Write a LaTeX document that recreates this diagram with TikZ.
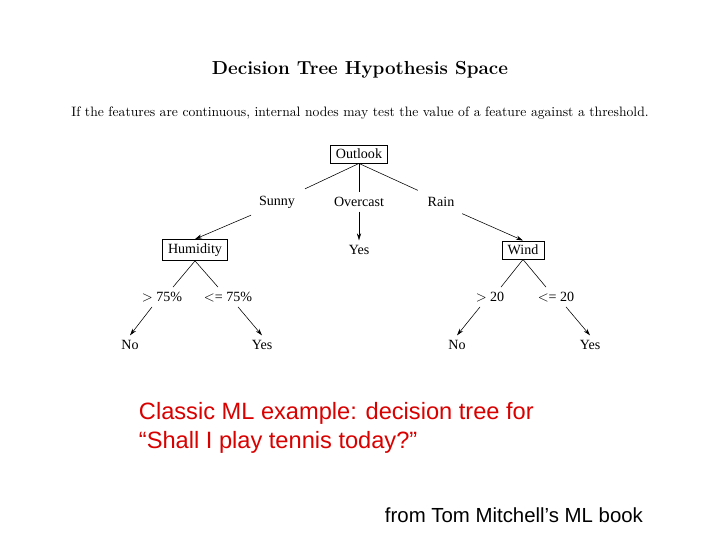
\documentclass[tikz,border=0pt]{standalone}
\usepackage{fontspec}
\setmainfont{Liberation Serif}
\newfontfamily\arialfont{Liberation Sans}
\newfontfamily\cmfont{Latin Modern Roman}
\usetikzlibrary{arrows.meta,calc}
\begin{document}
\begin{tikzpicture}[x=0.025cm,y=-0.025cm,
    test/.style={draw,font=\fontsize{10}{12}\selectfont,inner xsep=4pt,inner ysep=3pt},
    lbl/.style={font=\fontsize{10}{12}\selectfont},
    arr/.style={-{Stealth[length=5pt,width=3pt]},thin}]
\useasboundingbox (0,0) rectangle (720,540);
%TITLE
\node (title) at (360,70) {\cmfont\bfseries\fontsize{13.4}{15}\selectfont Decision Tree Hypothesis Space};
\node (sub) at (360,113) {\cmfont\fontsize{9.7}{11}\selectfont If the features are continuous, internal nodes may test the value of a feature against a threshold.};
%NODE
\node[test] (O) at (359,154) {Outlook};
\node[lbl] (S) at (277,202) {Sunny};
\node[lbl] (OC) at (359,202) {Overcast};
\node[lbl] (R) at (441,202) {Rain};
\node[test] (H) at (195,250) {Humidity};
\node[lbl] (Y1) at (359,250) {Yes};
\node[test] (W) at (523,250) {Wind};
\node[lbl] (H1) at (162,297) {$>$ 75\%};
\node[lbl] (H2) at (228,297) {$<$= 75\%};
\node[lbl] (W1) at (490,297) {$>$ 20};
\node[lbl] (W2) at (556,297) {$<$= 20};
\node[lbl] (N1) at (130,345) {No};
\node[lbl] (Y2) at (262,345) {Yes};
\node[lbl] (N2) at (457,345) {No};
\node[lbl] (Y3) at (590,345) {Yes};
%EDGE
\draw[thin] (O.south) -- ($(S.north east)+(5,-2)$);
\draw[thin] (O.south) -- (OC.north);
\draw[thin] (O.south) -- ($(R.north west)+(-5,-2)$);
\draw[arr] ($(S.south west)+(-3,2)$) -- (H.north);
\draw[arr] (OC.south) -- (Y1.north);
\draw[arr] ($(R.south east)+(3,2)$) -- (W.north);
\draw[thin] (H.south) -- ($(H1.north)+(11,0)$);
\draw[thin] (H.south) -- ($(H2.north)+(-10,0)$);
\draw[thin] (W.south) -- ($(W1.north)+(11,0)$);
\draw[thin] (W.south) -- ($(W2.north)+(-10,0)$);
\draw[arr] ($(H1.south)+(-10,0)$) -- (N1.north);
\draw[arr] ($(H2.south)+(10,0)$) -- (Y2.north);
\draw[arr] ($(W1.south)+(-10,0)$) -- (N2.north);
\draw[arr] ($(W2.south)+(10,0)$) -- (Y3.north);
%CAPTION
\node[anchor=west,text=red!85!black,align=left,font=\arialfont\fontsize{16.8}{21}\selectfont] (cap) at (134,428) {Classic ML example: decision tree for\\“Shall I play tennis today?”};
\node[anchor=west,font=\arialfont\fontsize{14.5}{17}\selectfont] (src) at (380,515) {from Tom Mitchell’s ML book};
\end{tikzpicture}
\end{document}
